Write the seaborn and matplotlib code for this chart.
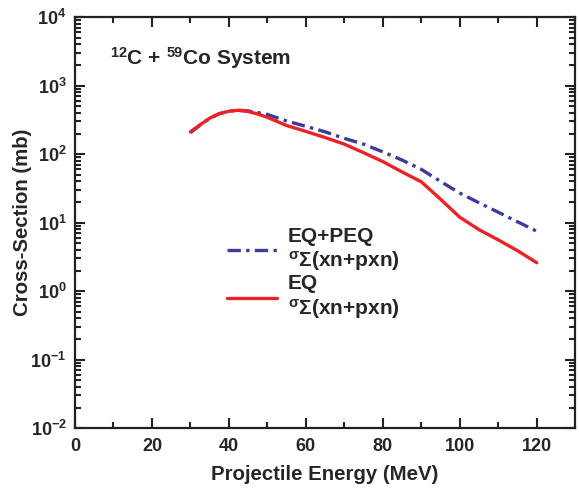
import numpy as np
import pandas as pd
import matplotlib
matplotlib.use("Agg")
import matplotlib.pyplot as plt
import seaborn as sns
from matplotlib.ticker import FixedLocator, LogFormatterMathtext, MultipleLocator, NullFormatter

# values
energy = [30, 32.5, 35, 37.5, 40, 42.5, 45, 47.5, 50, 55, 60, 65, 70, 75, 80,
          85, 90, 95, 100, 105, 110, 115, 120]
sigma_eq = [212, 268, 335, 390, 424, 437, 420, 385, 345, 262, 215, 175, 140, 105, 78,
            55, 39.5, 22, 12, 7.9, 5.6, 3.9, 2.6]
sigma_eq_peq = [206, 265, 333, 390, 424, 437, 428, 405, 380, 305, 255, 212, 170, 140, 108,
                82, 60, 40, 27, 19.5, 14.2, 10.3, 7.5]
y_decades = [1e-2, 1e-1, 1e0, 1e1, 1e2, 1e3, 1e4]

label_peq = "EQ+PEQ\n" + r"$^{\sigma}$Σ(xn+pxn)"
label_eq = "EQ\n" + r"$^{\sigma}$Σ(xn+pxn)"

df = pd.DataFrame({
    "energy": energy * 2,
    "sigma": sigma_eq_peq + sigma_eq,
    "model": [label_peq] * len(energy) + [label_eq] * len(energy),
})

sns.set_style("ticks")
plt.rcParams["font.family"] = ["Liberation Sans", "DejaVu Sans"]
plt.rcParams["font.weight"] = "bold"
plt.rcParams["mathtext.fontset"] = "custom"
plt.rcParams["mathtext.rm"] = "Liberation Sans:bold"
plt.rcParams["mathtext.it"] = "Liberation Sans:bold"
plt.rcParams["mathtext.bf"] = "Liberation Sans:bold"
plt.rcParams["mathtext.sf"] = "Liberation Sans:bold"

fig = plt.figure(figsize=(5.79, 4.91), dpi=100)
ax = fig.add_axes([0.1295, 0.128, 0.864, 0.837])

palette = {label_peq: "#3b3b9c", label_eq: "#ec2227"}
sns.lineplot(data=df, x="energy", y="sigma", hue="model", style="model",
             palette=palette, dashes={label_peq: (4, 1.6, 1, 1.6), label_eq: ""},
             linewidth=2.4, ax=ax, legend=False)

ax.set_yscale("log")
ax.set_xlim(0, 130)
ax.set_ylim(1e-2, 1e4)
ax.xaxis.set_major_locator(MultipleLocator(20))
ax.xaxis.set_minor_locator(MultipleLocator(10))
ax.yaxis.set_major_locator(FixedLocator(y_decades))
ax.yaxis.set_major_formatter(LogFormatterMathtext())
minor = [d * k for d in y_decades[:-1] for k in range(2, 10)]
ax.yaxis.set_minor_locator(FixedLocator(minor))
ax.yaxis.set_minor_formatter(NullFormatter())
ax.tick_params(which="both", direction="in", top=True, right=True, width=1.5,
               color="#222222")
ax.tick_params(which="major", length=7, labelsize=13)
ax.tick_params(which="minor", length=4)
ax.tick_params(axis="x", which="major", pad=7)
ax.tick_params(axis="y", which="major", pad=6)
for s in ax.spines.values():
    s.set_linewidth(1.6)
    s.set_color("#222222")

ax.set_xlabel("Projectile Energy (MeV)", fontsize=14.7, fontweight="bold", labelpad=7)
ax.set_ylabel("Cross-Section (mb)", fontsize=14.7, fontweight="bold", labelpad=-1)

ax.text(0.07, 0.885, r"$^{12}$C + $^{59}$Co System", transform=ax.transAxes,
        fontsize=15, fontweight="bold")

handles = ax.get_lines()
ax.legend(handles, [label_peq, label_eq], loc="upper left",
          bbox_to_anchor=(0.288, 0.51), borderaxespad=0, frameon=False,
          fontsize=15, handlelength=2.4, handletextpad=0.5, labelspacing=0.05)

fig.savefig("out.png", dpi=100)
